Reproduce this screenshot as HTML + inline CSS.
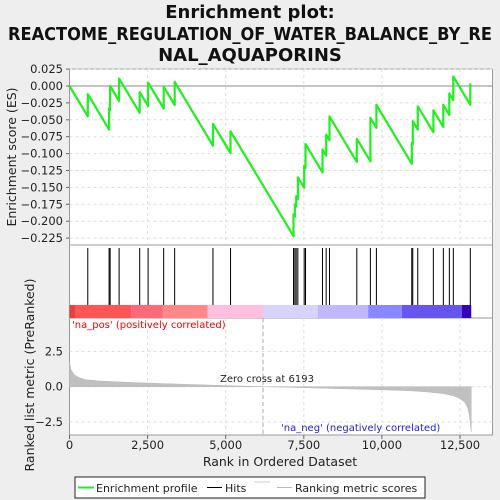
<!DOCTYPE html>
<html><head><meta charset="utf-8"><style>
body{margin:0;background:#eeeeee;}
svg{display:block;font-family:"DejaVu Sans","Liberation Sans",sans-serif;}
</style></head><body>
<svg id="chart" width="500" height="500" viewBox="0 0 500 500">
<rect x="0" y="0" width="500" height="500" fill="#eeeeee"/>
<g font-weight="bold" font-size="18" text-anchor="middle" fill="#111">
<text x="250" y="18">Enrichment plot:</text>
<text x="250" y="40" textLength="484" lengthAdjust="spacingAndGlyphs">REACTOME_REGULATION_OF_WATER_BALANCE_BY_RE</text>
<text x="250" y="61">NAL_AQUAPORINS</text>
</g>
<rect x="69.5" y="69" width="423" height="176" fill="#fff" stroke="#999"/>
<rect x="69.5" y="245" width="423" height="73" fill="#fff" stroke="#999"/>
<rect x="69.5" y="318" width="423" height="117" fill="#fff" stroke="#999"/>
<g id="grid"></g>
<g id="band"></g>
<g id="hits"></g>
<g id="metric"></g>
<g id="es"></g>
<g id="axes" font-size="11.5" fill="#222"></g>
<text x="16" y="157" transform="rotate(-90 16 157)" text-anchor="middle" font-size="12.5" fill="#222">Enrichment score (ES)</text>
<text x="34" y="375" transform="rotate(-90 34 375)" text-anchor="middle" font-size="12.5" fill="#222">Ranked list metric (PreRanked)</text>
<text x="280" y="466" text-anchor="middle" font-size="12.5" fill="#222">Rank in Ordered Dataset</text>
<text x="72" y="328" font-size="10" fill="#e00">'na_pos' (positively correlated)</text>
<text x="281" y="431" font-size="10" fill="#22c">'na_neg' (negatively correlated)</text>
<text x="220" y="382" font-size="10" fill="#222">Zero cross at 6193</text>
<g>
<rect x="75" y="477" width="350" height="21" fill="#fff" stroke="#222"/>
<line x1="78" y1="487.5" x2="94" y2="487.5" stroke="#22ee22" stroke-width="2"/>
<text x="96" y="492" font-size="11" fill="#222">Enrichment profile</text>
<line x1="207" y1="487.5" x2="222" y2="487.5" stroke="#000"/>
<text x="225" y="492" font-size="11" fill="#222">Hits</text>
<line x1="254" y1="482" x2="270" y2="482" stroke="#ccc"/>
<line x1="277" y1="487.5" x2="292" y2="487.5" stroke="#bbb"/>
<text x="295" y="492" font-size="11" fill="#222">Ranking metric scores</text>
</g>
</svg>
<script>
const hitRanks=[585,1268,1300,1588,2247,2516,3014,3366,4592,5155,7171,7214,7256,7310,7512,7554,8098,8216,8322,9197,9632,9824,10956,10988,11148,11647,11967,12159,12287,12830];
const esAfterHit=[-0.012,-0.033,0.0,0.011,-0.009,0.005,-0.001,0.006,-0.056,-0.067,-0.19,-0.175,-0.163,-0.135,-0.118,-0.086,-0.094,-0.072,-0.045,-0.078,-0.047,-0.028,-0.084,-0.052,-0.030,-0.036,-0.028,-0.011,0.014,0.004];
const esTicks=[0.025,0,-0.025,-0.05,-0.075,-0.1,-0.125,-0.15,-0.175,-0.2,-0.225];
const esTickLabels=["0.025","0.000","\u22120.025","\u22120.050","\u22120.075","\u22120.100","\u22120.125","\u22120.150","\u22120.175","\u22120.200","\u22120.225"];
const rankTicks=[0,2500,5000,7500,10000,12500];
const rankTickLabels=["0","2,500","5,000","7,500","10,000","12,500"];
const metricTicks=[2.5,0,-2.5];
const metricTickLabels=["2.5","0.0","\u22122.5"];
const metricRanks=[0,50,150,300,500,1000,2000,3000,4000,5000,6193,7000,8000,9000,10000,11000,11500,12000,12300,12500,12650,12750,12800,12830,12860];
const metricValues=[1.75,1.2,0.85,0.65,0.5,0.4,0.3,0.22,0.15,0.08,0,-0.04,-0.1,-0.16,-0.22,-0.3,-0.38,-0.5,-0.65,-0.85,-1.1,-1.5,-2.0,-2.6,-3.2];
const bandEdges=[0,200,1980,2990,4420,6210,7950,9560,10640,12560,12860];
const bandColors=["#e84040","#ff5555","#ff6a7a","#ff8888","#ffc0e0","#d4d4ff","#c0b8ff","#8888ff","#6655ee","#3300bb"];
const maxRank=12860, zeroCross=6193, esSlope=0.045/585;

const NS="http://www.w3.org/2000/svg";
function xs(r){return 69.5+r*(460-69.5)/12500;}
function yes(v){return 86+(-v)*(169/0.25);}
function ym(v){return 386.7-v*(35.3/2.5);}
function mk(p,tag,a){const e=document.createElementNS(NS,tag);for(const k in a)e.setAttribute(k,a[k]);document.getElementById(p).appendChild(e);return e;}

rankTicks.forEach((r,i)=>{if(i===0)return;
 let g=mk('grid','line',{x1:xs(r),x2:xs(r),y1:69,y2:245,stroke:'#ddd','stroke-dasharray':'3,3'});
 
 
 let g2=mk('grid','line',{x1:xs(r),x2:xs(r),y1:318,y2:435,stroke:'#ddd','stroke-dasharray':'3,3'});
 
 
});
esTicks.forEach(v=>{
 let g=mk('grid','line',{x1:69.5,x2:492.5,y1:yes(v),y2:yes(v),stroke:v===0?'#888':'#ddd','stroke-dasharray':v===0?'':'3,3'});
 
 
});
metricTicks.forEach(v=>{
 let g=mk('grid','line',{x1:69.5,x2:492.5,y1:ym(v),y2:ym(v),stroke:'#ddd','stroke-dasharray':'3,3'});
 
 
});
let zc=mk('grid','line',{x1:xs(zeroCross),x2:xs(zeroCross),y1:318,y2:435,stroke:'#aaa','stroke-dasharray':'4,3'});



bandColors.forEach((c,i)=>{
 let r=mk('band','rect',{x:xs(bandEdges[i]),y:305,width:xs(bandEdges[i+1])-xs(bandEdges[i]),height:13,fill:c});
 
 
});
hitRanks.forEach(r=>{
 let l=mk('hits','line',{x1:xs(r),x2:xs(r),y1:248,y2:305,stroke:'#000','stroke-width':1});
 
 
});
let d='M'+xs(0)+','+ym(0);
metricRanks.forEach((r,i)=>{d+=' L'+xs(r)+','+ym(metricValues[i]);});
d+=' L'+xs(metricRanks[metricRanks.length-1])+','+ym(0)+' Z';
let ma=mk('metric','path',{d:d,fill:'#c0c0c0',stroke:'#b8b8b8','stroke-width':0.5});


let pts=[[0,0]],prevR=0,prevV=0;
hitRanks.forEach((r,i)=>{let before=prevV-(r-prevR)*esSlope;pts.push([r,before]);pts.push([r,esAfterHit[i]]);prevR=r;prevV=esAfterHit[i];});
let ed=pts.map((p,i)=>(i?'L':'M')+xs(p[0]).toFixed(1)+','+yes(p[1]).toFixed(1)).join(' ');
let ep=mk('es','path',{d:ed,fill:'none',stroke:'#22ee22','stroke-width':2.2,'stroke-linejoin':'round'});


esTicks.forEach((v,i)=>{
 let t=mk('axes','text',{x:63,y:yes(v)+4,'text-anchor':'end'});t.textContent=esTickLabels[i];
 
 
 let k=mk('axes','line',{x1:66,x2:69.5,y1:yes(v),y2:yes(v),stroke:'#666'});
 
 
});
metricTicks.forEach((v,i)=>{
 let t=mk('axes','text',{x:63,y:ym(v)+4,'text-anchor':'end'});t.textContent=metricTickLabels[i];
 
 
});
rankTicks.forEach((r,i)=>{
 let t=mk('axes','text',{x:xs(r),y:449,'text-anchor':'middle'});t.textContent=rankTickLabels[i];
 
 
 let k=mk('axes','line',{x1:xs(r),x2:xs(r),y1:435,y2:439,stroke:'#666'});
 
 
});
</script>
</body></html>
